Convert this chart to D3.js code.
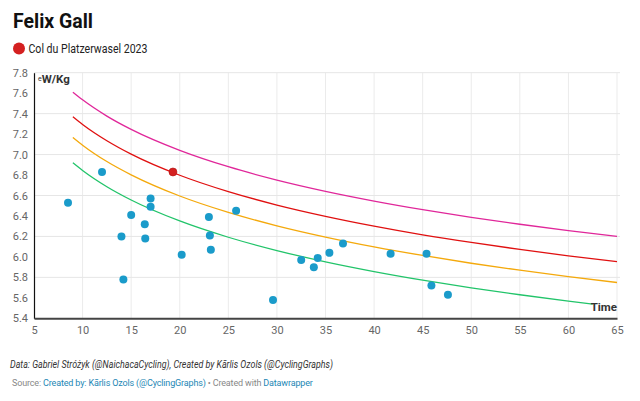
<!DOCTYPE html>
<html><head><meta charset="utf-8">
<script src="https://cdn.jsdelivr.net/npm/d3@7"></script>
<style>
html,body{margin:0;padding:0;background:#fff;}
svg{display:block;font-family:Roboto,"Noto Sans",sans-serif;}
</style></head>
<body>
<svg id="c" width="640" height="401"></svg>
<script>
// ---- data ----
const efforts = [ // [minutes, W/kg]
  [8.5,6.53],[12.0,6.83],[14.0,6.20],[14.2,5.78],[15.0,6.41],[16.4,6.32],[16.45,6.18],
  [17.0,6.57],[17.0,6.49],[20.2,6.02],[23.0,6.39],[23.1,6.21],[23.2,6.07],[25.8,6.45],
  [29.6,5.58],[32.5,5.97],[33.8,5.90],[34.2,5.99],[35.4,6.04],[36.8,6.13],[41.7,6.03],
  [45.4,6.03],[45.9,5.72],[47.6,5.63]
];
const highlight = [[19.3,6.83]];
const highlightLabel = "Col du Platzerwasel 2023";
const curveTimes = [9,10,12.5,15,20,25,30,35,40,45,50,55,60,65];
const pinkCurve   = [7.61,7.535,7.376,7.246,7.041,6.881,6.751,6.641,6.546,6.462,6.387,6.319,6.257,6.200];
const redCurve    = [7.37,7.294,7.135,7.004,6.798,6.638,6.507,6.397,6.301,6.216,6.141,6.073,6.010,5.953];
const orangeCurve = [7.168,7.092,6.932,6.802,6.595,6.435,6.304,6.194,6.098,6.014,5.938,5.870,5.807,5.750];
const greenTimes  = [9,10,12.5,15,20,25,30,35,40,45,50,55,60,62.5];
const greenCurve  = [6.92,6.845,6.686,6.556,6.351,6.192,6.062,5.952,5.857,5.773,5.698,5.630,5.568,5.539];
const xTicks = [5,10,15,20,25,30,35,40,45,50,55,60,65];
const yTicks = [5.4,5.6,5.8,6.0,6.2,6.4,6.6,6.8,7.0,7.2,7.4,7.6,7.8];
const yGrid = [5.8,6.2,6.6,7.0,7.4,7.8];

// ---- layout ----
const svg = d3.select("#c");
const L = 34, R = 617, T = 72.7, B = 318.3;
const x = d3.scaleLinear().domain([5,65]).range([L,R]);
const y = d3.scaleLinear().domain([5.4,7.8]).range([B,T]);

// title + legend
svg.append("text").attr("x",13).attr("y",27.5).attr("font-size",20).attr("font-weight","bold")
  .attr("fill","#111").attr("textLength",80).attr("lengthAdjust","spacingAndGlyphs").text("Felix Gall");
svg.append("circle").attr("cx",19).attr("cy",48.5).attr("r",6).attr("fill","#d42020");
svg.append("text").attr("x",28.5).attr("y",53).attr("font-size",12).attr("fill","#222")
  .attr("textLength",119).attr("lengthAdjust","spacingAndGlyphs").text(highlightLabel);

// grid
const g = svg.append("g");
g.selectAll(".vg").data(xTicks.filter(d=>d>5)).join("line")
  .attr("x1",d=>x(d)).attr("x2",d=>x(d)).attr("y1",T).attr("y2",B)
  .attr("stroke","#ebebeb").attr("stroke-width",1);
g.selectAll(".hg").data(yGrid).join("line")
  .attr("x1",L).attr("x2",R+3).attr("y1",d=>y(d)).attr("y2",d=>y(d))
  .attr("stroke","#e6e6e6").attr("stroke-width",1);

// axes
const yAxis = svg.append("g").attr("transform",`translate(${L},0)`)
  .call(d3.axisLeft(y).tickValues(yTicks).tickFormat(d3.format(".1f")).tickSize(0).tickPadding(6));
yAxis.select(".domain").attr("stroke","#111").attr("stroke-width",1.2);
yAxis.selectAll("text").attr("font-size",11).attr("fill","#666").attr("font-family","Roboto,sans-serif");
const xAxis = svg.append("g").attr("transform",`translate(0,${B})`)
  .call(d3.axisBottom(x).tickValues(xTicks).tickFormat(d3.format("d")).tickSize(0).tickPadding(8));
xAxis.select(".domain").attr("stroke","#444").attr("stroke-width",2);
xAxis.selectAll("text").attr("font-size",11).attr("fill","#666").attr("font-family","Roboto,sans-serif");

// curves
const line = d3.line().x(d=>x(d[0])).y(d=>y(d[1])).curve(d3.curveMonotoneX);
const curves = [
  [curveTimes,pinkCurve,"#e0279a"],
  [curveTimes,redCurve,"#e01010"],
  [curveTimes,orangeCurve,"#f4a90c"],
  [greenTimes,greenCurve,"#22c46a"]
];
curves.forEach(([ts,vs,col])=>{
  svg.append("path").datum(ts.map((t,i)=>[t,vs[i]])).attr("d",line)
    .attr("fill","none").attr("stroke",col).attr("stroke-width",1.3);
});

// axis titles
const yl = svg.append("text").attr("x",38).attr("y",83).attr("fill","#333").attr("font-weight","bold").attr("font-size",11.5);
yl.append("tspan").attr("font-size",7).attr("dy",-2).attr("font-weight","normal").text("e");
yl.append("tspan").attr("dy",2).text("W/Kg");
svg.append("text").attr("x",R).attr("y",311).attr("text-anchor","end").attr("fill","#333")
  .attr("font-weight","bold").attr("font-size",11.5).text("Time");

// points
svg.selectAll(".pt").data(efforts).join("circle")
  .attr("cx",d=>x(d[0])).attr("cy",d=>y(d[1])).attr("r",4)
  .attr("fill","#1a9bca");
svg.selectAll(".hp").data(highlight).join("circle")
  .attr("cx",d=>x(d[0])).attr("cy",d=>y(d[1])).attr("r",4)
  .attr("fill","#d42020").attr("stroke","#b01010").attr("stroke-width",0.6);

// footer
svg.append("text").attr("x",10).attr("y",367.5).attr("font-size",11).attr("font-style","italic")
  .attr("fill","#333").attr("textLength",323).attr("lengthAdjust","spacingAndGlyphs")
  .text("Data: Gabriel Stróżyk (@NaichacaCycling), Created by Kārlis Ozols (@CyclingGraphs)");
const parts = [
  ["Source:", "#888", 10],
  ["Created by: Kārlis Ozols (@CyclingGraphs)", "#1d87b5", 40],
  ["• Created with", "#888", 195],
  ["Datawrapper", "#1d87b5", 247.5]
];
let cursor = 10;
parts.forEach(([t,col,x0])=>{
  const start = Math.max(x0, cursor + 2);
  const el = svg.append("text").attr("x",start).attr("y",385.5).attr("font-size",9)
    .attr("letter-spacing",-0.15).attr("fill",col).text(t);
  cursor = start + el.node().getComputedTextLength();
});
</script>
</body></html>
